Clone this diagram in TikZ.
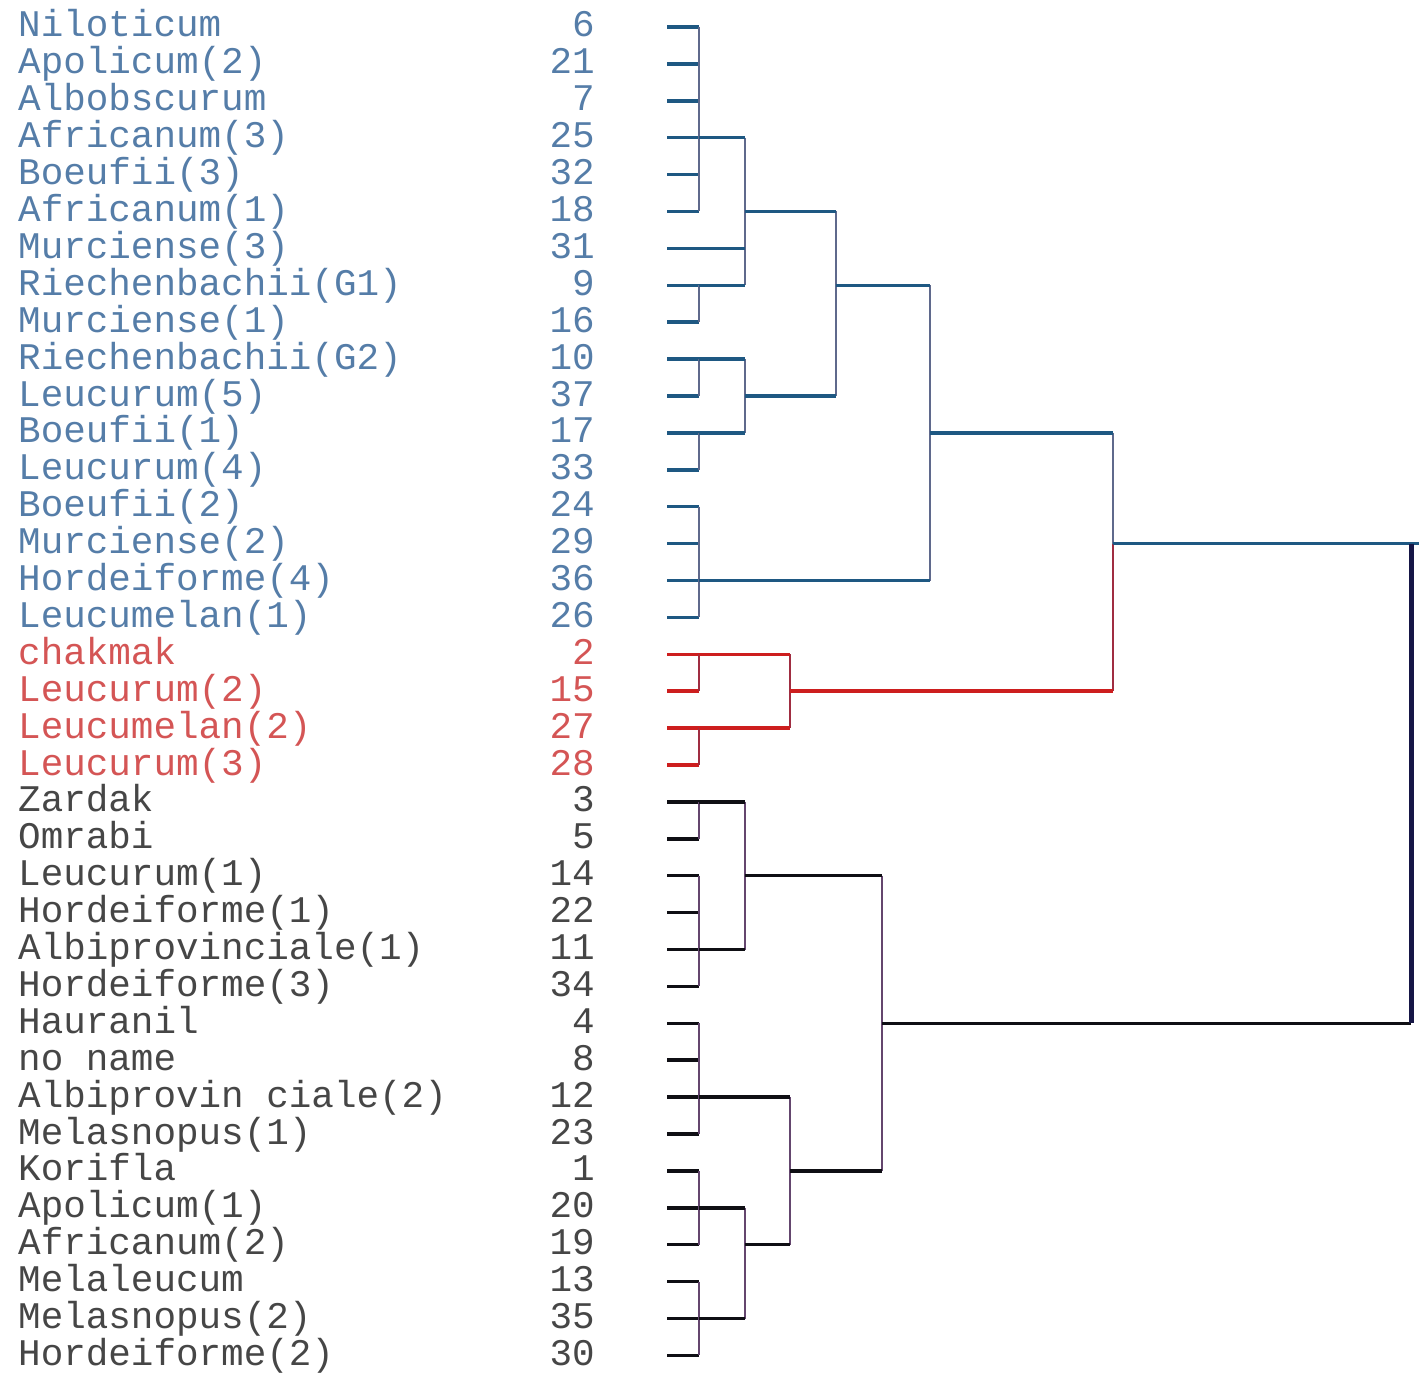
\documentclass[tikz,border=0pt]{standalone}
\usepackage{fontspec}
\setmonofont{Liberation Mono}
\usetikzlibrary{calc}

\definecolor{bluetxt}{RGB}{85,125,168}
\definecolor{redtxt}{RGB}{212,85,85}
\definecolor{blktxt}{RGB}{70,70,70}
\definecolor{blueline}{RGB}{30,88,130}
\definecolor{redline}{RGB}{205,30,30}
\definecolor{blkline}{RGB}{15,15,20}
\definecolor{bluebar}{RGB}{95,105,140}
\definecolor{redbar}{RGB}{160,45,65}
\definecolor{blkbar}{RGB}{100,70,110}
\definecolor{rootbar}{RGB}{22,22,70}

\begin{document}
\begin{tikzpicture}[x=1pt,y=-1pt,
    leaf label/.style={anchor=base west,inner sep=0pt,font=\ttfamily\fontsize{37.6}{40}\selectfont},
    leaf num/.style={anchor=base east,inner sep=0pt,font=\ttfamily\fontsize{37.6}{40}\selectfont},
    stub/.style={line width=3.5pt},
    bar/.style={line width=1.6pt}]

  \useasboundingbox (0,0) rectangle (1419,1375);

  % labels, numbers and leaf ends
  \foreach [count=\i] \lab/\num/\tc/\lc in {
      Niloticum/6/bluetxt/blueline, Apolicum(2)/21/bluetxt/blueline,
      Albobscurum/7/bluetxt/blueline, Africanum(3)/25/bluetxt/blueline,
      Boeufii(3)/32/bluetxt/blueline, Africanum(1)/18/bluetxt/blueline,
      Murciense(3)/31/bluetxt/blueline, Riechenbachii(G1)/9/bluetxt/blueline,
      Murciense(1)/16/bluetxt/blueline, Riechenbachii(G2)/10/bluetxt/blueline,
      Leucurum(5)/37/bluetxt/blueline, Boeufii(1)/17/bluetxt/blueline,
      Leucurum(4)/33/bluetxt/blueline, Boeufii(2)/24/bluetxt/blueline,
      Murciense(2)/29/bluetxt/blueline, Hordeiforme(4)/36/bluetxt/blueline,
      Leucumelan(1)/26/bluetxt/blueline,
      chakmak/2/redtxt/redline, Leucurum(2)/15/redtxt/redline,
      Leucumelan(2)/27/redtxt/redline, Leucurum(3)/28/redtxt/redline,
      Zardak/3/blktxt/blkline, Omrabi/5/blktxt/blkline,
      Leucurum(1)/14/blktxt/blkline, Hordeiforme(1)/22/blktxt/blkline,
      Albiprovinciale(1)/11/blktxt/blkline, Hordeiforme(3)/34/blktxt/blkline,
      Hauranil/4/blktxt/blkline, no name/8/blktxt/blkline,
      Albiprovin ciale(2)/12/blktxt/blkline, Melasnopus(1)/23/blktxt/blkline,
      Korifla/1/blktxt/blkline, Apolicum(1)/20/blktxt/blkline,
      Africanum(2)/19/blktxt/blkline, Melaleucum/13/blktxt/blkline,
      Melasnopus(2)/35/blktxt/blkline, Hordeiforme(2)/30/blktxt/blkline} {
    \pgfmathsetmacro\rowy{27+36.9*(\i-1)}
    \node[leaf label,text=\tc] (lab\i) at (18,\rowy+10) {\lab};
    \node[leaf num,text=\tc] (num\i) at (595,\rowy+10) {\num};
    \coordinate (leaf\i) at (667,\rowy);
    \draw[stub,\lc] (leaf\i) -- ++(32,0);
  }

  % merge points
  \path (leaf4)  ++(32,0)  coordinate (cA);
  \path (leaf8)  ++(32,0)  coordinate (cB1);
  \path (leaf6)  ++(78,0)  coordinate (cB);
  \path (leaf10) ++(32,0)  coordinate (cC1);
  \path (leaf12) ++(32,0)  coordinate (cC2);
  \path (leaf11) ++(78,0)  coordinate (cC);
  \path (leaf8)  ++(169,0) coordinate (cE);
  \path (leaf16) ++(32,0)  coordinate (cD);
  \path (leaf12) ++(263,0) coordinate (cF);
  \path (leaf18) ++(32,0)  coordinate (cR1);
  \path (leaf20) ++(32,0)  coordinate (cR2);
  \path (leaf19) ++(123,0) coordinate (cR);
  \path (leaf15) ++(446,0) coordinate (cG);
  \path (leaf22) ++(32,0)  coordinate (cK1);
  \path (leaf26) ++(32,0)  coordinate (cK2);
  \path (leaf24) ++(78,0)  coordinate (cK);
  \path (leaf30) ++(32,0)  coordinate (cM1);
  \path (leaf33) ++(32,0)  coordinate (cM2);
  \path (leaf36) ++(32,0)  coordinate (cM3);
  \path (leaf34) ++(78,0)  coordinate (cM4);
  \path (leaf32) ++(123,0) coordinate (cM);
  \path (leaf28) ++(215,0) coordinate (cN);
  \path (leaf15) ++(744,0) coordinate (root);
  \path (leaf15) ++(752,0) coordinate (rightend);

  % blue group
  \draw[bar,bluebar] (cA |- leaf1) -- (cA |- leaf6);
  \draw[bar,bluebar] (cB1 |- leaf8) -- (cB1 |- leaf9);
  \draw[bar,bluebar] (cB |- cA) -- (cB |- cB1);
  \draw[stub,blueline] (cA) -- (cA -| cB);
  \draw[stub,blueline] (leaf7) -- (leaf7 -| cB);
  \draw[stub,blueline] (cB1) -- (cB1 -| cB);
  \draw[bar,bluebar] (cC1 |- leaf10) -- (cC1 |- leaf11);
  \draw[bar,bluebar] (cC2 |- leaf12) -- (cC2 |- leaf13);
  \draw[bar,bluebar] (cC |- cC1) -- (cC |- cC2);
  \draw[stub,blueline] (cC1) -- (cC1 -| cC);
  \draw[stub,blueline] (cC2) -- (cC2 -| cC);
  \draw[bar,bluebar] (cE |- cB) -- (cE |- cC);
  \draw[stub,blueline] (cB) -- (cB -| cE);
  \draw[stub,blueline] (cC) -- (cC -| cE);
  \draw[bar,bluebar] (cD |- leaf14) -- (cD |- leaf17);
  \draw[bar,bluebar] (cF |- cE) -- (cF |- cD);
  \draw[stub,blueline] (cE) -- (cE -| cF);
  \draw[stub,blueline] (cD) -- (cD -| cF);

  % red group
  \draw[bar,redbar] (cR1 |- leaf18) -- (cR1 |- leaf19);
  \draw[bar,redbar] (cR2 |- leaf20) -- (cR2 |- leaf21);
  \draw[bar,redbar] (cR |- cR1) -- (cR |- cR2);
  \draw[stub,redline] (cR1) -- (cR1 -| cR);
  \draw[stub,redline] (cR2) -- (cR2 -| cR);

  % join of blue and red
  \draw[bar,bluebar] (cG |- cF) -- (cG);
  \draw[bar,redbar] (cG) -- (cG |- cR);
  \draw[stub,blueline] (cF) -- (cF -| cG);
  \draw[stub,redline] (cR) -- (cR -| cG);
  \draw[stub,blueline] (cG) -- (rightend);

  % black group
  \draw[bar,blkbar] (cK1 |- leaf22) -- (cK1 |- leaf23);
  \draw[bar,blkbar] (cK2 |- leaf24) -- (cK2 |- leaf27);
  \draw[bar,blkbar] (cK |- cK1) -- (cK |- cK2);
  \draw[stub,blkline] (cK1) -- (cK1 -| cK);
  \draw[stub,blkline] (cK2) -- (cK2 -| cK);
  \draw[bar,blkbar] (cM1 |- leaf28) -- (cM1 |- leaf31);
  \draw[bar,blkbar] (cM2 |- leaf32) -- (cM2 |- leaf34);
  \draw[bar,blkbar] (cM3 |- leaf35) -- (cM3 |- leaf37);
  \draw[bar,blkbar] (cM4 |- cM2) -- (cM4 |- cM3);
  \draw[stub,blkline] (cM2) -- (cM2 -| cM4);
  \draw[stub,blkline] (cM3) -- (cM3 -| cM4);
  \draw[bar,blkbar] (cM |- cM1) -- (cM |- cM4);
  \draw[stub,blkline] (cM1) -- (cM1 -| cM);
  \draw[stub,blkline] (cM4) -- (cM4 -| cM);
  \draw[bar,blkbar] (cN |- cK) -- (cN |- cM);
  \draw[stub,blkline] (cK) -- (cK -| cN);
  \draw[stub,blkline] (cM) -- (cM -| cN);

  % root
  \draw[stub,blkline] (cN) -- (cN -| root);
  \draw[line width=5pt,rootbar] (root) -- (root |- cN);

\end{tikzpicture}
\end{document}
